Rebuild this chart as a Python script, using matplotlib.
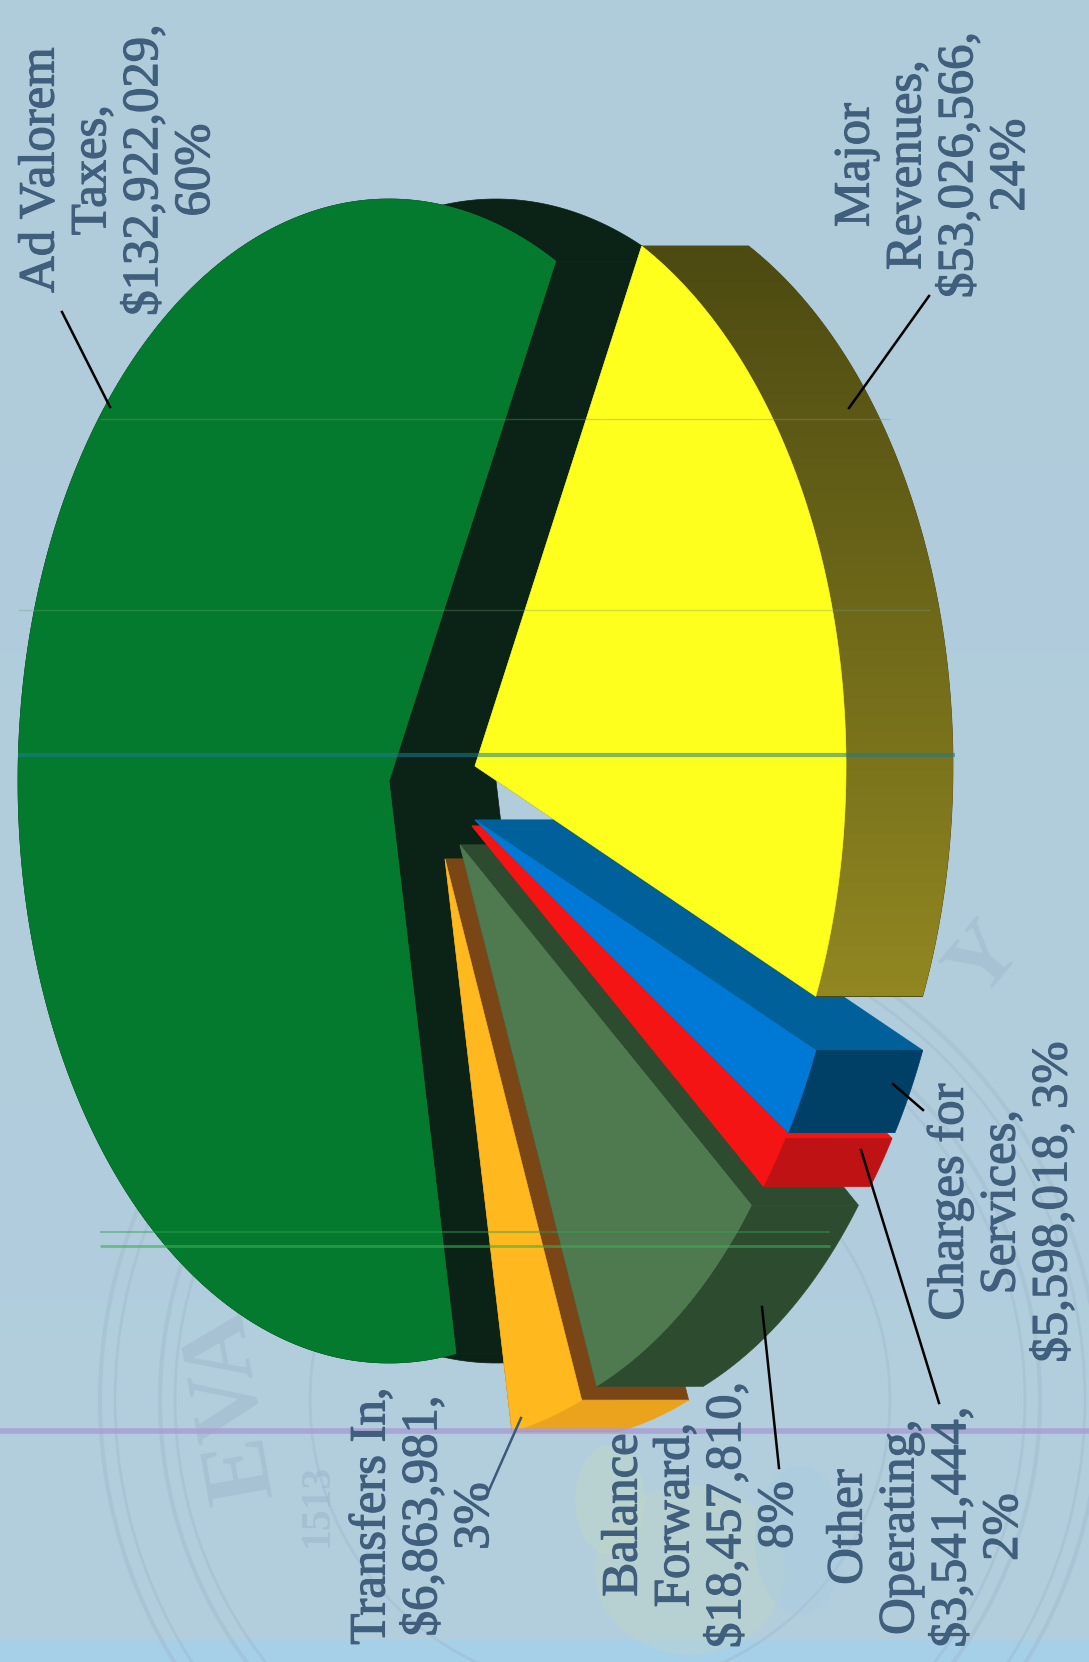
import numpy as np
import matplotlib
matplotlib.use('Agg')
from matplotlib import pyplot as plt
from matplotlib import patheffects
from matplotlib.patches import Polygon, Circle, Ellipse

# data, in drawing order going round the pie
categories = ['Ad Valorem Taxes', 'Transfers In', 'Balance Forward',
              'Other Operating', 'Charges for Services', 'Major Revenues']
values = [132922029, 6863981, 18457810, 3541444, 5598018, 53026566]
percents = [60, 3, 8, 2, 3, 24]
label_lines = ['Ad Valorem\nTaxes,\n$132,922,029,\n60%',
               'Transfers In,\n$6,863,981,\n3%',
               'Balance\nForward,\n$18,457,810,\n8%',
               'Other\nOperating,\n$3,541,444,\n2%',
               'Charges for\nServices,\n$5,598,018, 3%',
               'Major\nRevenues,\n$53,026,566,\n24%']

# colours per slice
top_colors = ['#047A2E', '#FFB81E', '#4F7A50', '#F51414', '#0079D6', '#FFFF1E']
side_colors = ['#0A2316', '#7A4616', '#2D4B2F', '#F51414', '#00609A', '#4D4A12']
rim_colors = ['#0A2316', '#EBA31E', '#2D4B2F', '#BE1214', '#003F66', '#4D4A12']

# pie layout, pixels of the 1089x1662 page
a, b = 371.0, 582.0
depth = 107.0
start = 79.6  # degrees where the green slice starts, the others go the other way
apex_x = [389, 445, 460, 472, 475, 475]
apex_y = [781, 859, 845, 826, 820, 766]
label_x = [119, 424, 702, 927, 1002, 934]
label_y = [170, 1516, 1515, 1527, 1202, 165]
leaders = [((62, 312), (110, 407), 'black'),
           ((521, 1418), (486, 1497), '#3A5A78'),
           ((762, 1307), (779, 1468), 'black'),
           ((861, 1150), (939, 1403), 'black'),
           ((893, 1084), (923, 1110), 'black'),
           ((929, 296), (849, 408), 'black')]
text_color = '#3F5F7C'

fig = plt.figure(figsize=(10.89, 16.62), dpi=100)
ax = fig.add_axes([0, 0, 1, 1])

# paper background
yy = np.linspace(0, 1, 300).reshape(-1, 1)
bg = np.zeros((300, 1, 3))
bg[:, :, 0] = 0.690 + 0.01 * yy
bg[:, :, 1] = 0.800 + 0.01 * yy
bg[:, :, 2] = 0.860 + 0.01 * yy
ax.imshow(bg, extent=(0, 1089, 1662, 0), aspect='auto', zorder=0)
ax.axhspan(1640, 1662, color='#A6CFE8', lw=0, zorder=0.5)

# faint seal behind the chart
seal = '#9DB8C9'
for r, w in [(500, 3), (485, 2), (440, 3), (425, 2), (290, 2)]:
    ax.add_patch(Circle((600, 1400), r, fill=False, ec=seal, lw=w, alpha=0.4, zorder=1))
ax.add_patch(Ellipse((690, 1570), 190, 170, fc='#C3D8BE', ec='none', alpha=0.3, zorder=1))
ax.add_patch(Ellipse((800, 1540), 90, 150, fc='#A6CAE2', ec='none', alpha=0.4, zorder=1))
ax.add_patch(Ellipse((610, 1500), 70, 110, fc='#C6DAB8', ec='none', alpha=0.3, zorder=1))
ax.text(232, 1405, 'EVA', color=seal, fontsize=70, rotation=100, ha='center', va='center',
        family='Liberation Serif', fontweight='bold', alpha=0.5, zorder=1)
ax.text(318, 1505, '1513', color=seal, fontsize=30, rotation=90, ha='center', va='center',
        family='Liberation Serif', fontweight='bold', alpha=0.6, zorder=1)
ax.text(985, 960, 'Y', color=seal, fontsize=64, rotation=50, ha='center', va='center',
        family='Liberation Serif', fontweight='bold', alpha=0.5, zorder=1)


def arc(cx, cy, t1, t2):
    t = np.radians(np.linspace(t1, t2, 240))
    return np.column_stack((cx + a * np.cos(t), cy + b * np.sin(t)))


# slices: angles come from the values. green runs one way from start,
# the small ones and the yellow run the other way
sweeps = 360.0 * np.array(values) / sum(values)
starts = [start + sweeps[0]]
ends = [start]
prev = start
for s in sweeps[1:]:
    starts.append(prev - s)
    ends.append(prev)
    prev = prev - s

z = 2
for i in range(len(values)):
    t1, t2 = starts[i], ends[i]
    apex = np.array([apex_x[i], apex_y[i]], dtype=float)
    pts = arc(apex[0], apex[1], t1, t2)
    shift = np.array([depth, 0.0])
    # flat side faces, then the rim, then the top
    for p in (pts[0], pts[-1]):
        face = [apex, p, p + shift, apex + shift]
        ax.add_patch(Polygon(face, fc=side_colors[i], ec=side_colors[i], lw=0.5, zorder=z))
    rim = np.vstack((pts, (pts + shift)[::-1]))
    rim_patch = Polygon(rim, fc=rim_colors[i], ec=rim_colors[i], lw=0.5, zorder=z + 0.1)
    ax.add_patch(rim_patch)
    if categories[i] == 'Major Revenues':
        # olive rim gets lighter going down
        grad = np.linspace(0, 1, 200).reshape(-1, 1)
        img = np.zeros((200, 1, 3))
        img[:, :, 0] = 0.30 + 0.27 * grad
        img[:, :, 1] = 0.29 + 0.24 * grad
        img[:, :, 2] = 0.07 + 0.06 * grad
        im = ax.imshow(img, extent=(600, 1000, rim[:, 1].max(), rim[:, 1].min()),
                       aspect='auto', zorder=z + 0.2)
        im.set_clip_path(rim_patch)
    top = np.vstack((apex, pts))
    ax.add_patch(Polygon(top, fc=top_colors[i], ec=top_colors[i], lw=0.5, zorder=z + 0.3))
    z += 1

# scanner streaks
for y, x0, x1, col, w, al in [(755, 18, 955, '#1C7C8C', 3, 0.55),
                              (1431, 0, 1089, '#A99BD6', 4, 0.8),
                              (1246, 100, 830, '#38B050', 2, 0.6),
                              (1232, 100, 830, '#30A050', 1.5, 0.45),
                              (610, 18, 930, '#6FA070', 1, 0.35),
                              (419, 100, 890, '#6FA070', 1, 0.35)]:
    ax.plot([x0, x1], [y, y], color=col, lw=w, alpha=al, zorder=12, solid_capstyle='butt')

# labels and leader lines, the thin stroke makes the serif as heavy as the print
for i in range(len(label_lines)):
    t = ax.text(label_x[i], label_y[i], label_lines[i], color=text_color, fontsize=36.5,
                family='Liberation Serif', rotation=90, ha='center', va='center',
                multialignment='center', linespacing=1.15, zorder=13)
    t.set_path_effects([patheffects.withStroke(linewidth=0.9, foreground=text_color)])
for p, q, col in leaders:
    ax.plot([p[0], q[0]], [p[1], q[1]], color=col, lw=1.8, zorder=14)

ax.set_xlim(0, 1089)
ax.set_ylim(1662, 0)
ax.axis('off')
fig.savefig('out.png', dpi=100)
